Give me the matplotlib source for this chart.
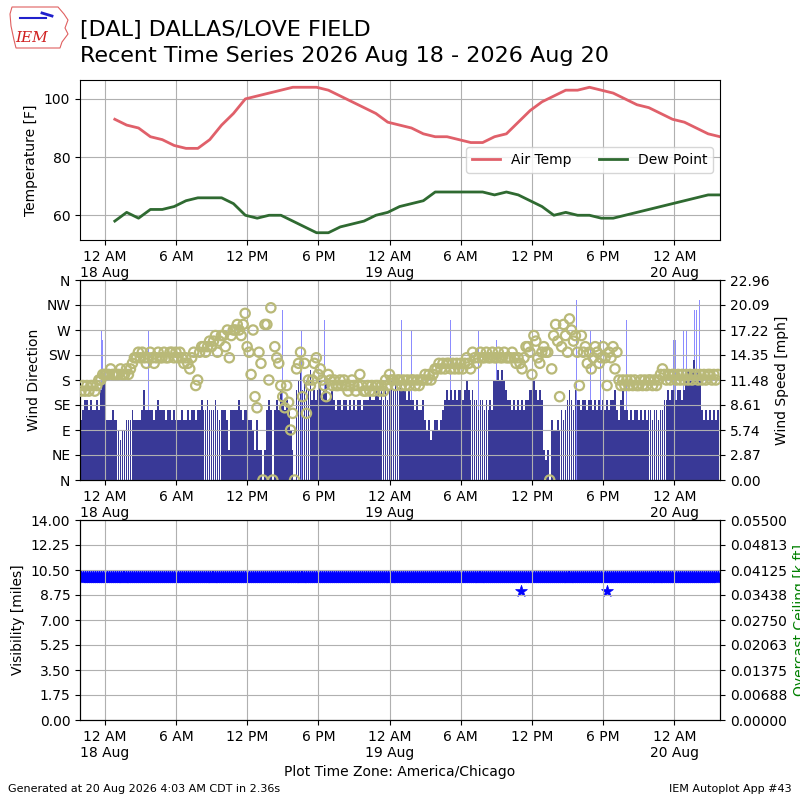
import datetime
import numpy as np
import matplotlib
matplotlib.use("Agg")
import matplotlib.pyplot as plt
import matplotlib.dates as mdates
from matplotlib.ticker import FuncFormatter, FormatStrFormatter
from matplotlib.patches import Polygon

# ---- data ------------------------------------------------------------
base = datetime.datetime(2026, 8, 18, 0, 0)

# hourly obs (at :51) starting 00:51 18 Aug
air_temp = [93, 91, 90, 87, 86, 84, 83, 83, 86, 91, 95, 100, 101, 102, 103,
            104, 104, 104, 103, 101, 99, 97, 95, 92, 91,
            90, 88, 87, 87, 86, 85, 85, 87, 88, 92, 96, 99, 101, 103, 103,
            104, 103, 102, 100, 98, 97, 95, 93, 92, 90, 88, 87]
dew_point = [58, 61, 59, 62, 62, 63, 65, 66, 66, 66, 64, 60, 59, 60, 60,
             58, 56, 54, 54, 56, 57, 58, 60, 61, 63,
             64, 65, 68, 68, 68, 68, 68, 67, 68, 67, 65, 63, 60, 61, 60,
             60, 59, 59, 60, 61, 62, 63, 64, 65, 66, 67, 67]

# 10 minute wind obs starting 22:00 17 Aug, speed in knots
wind_kt = [
    6, 7, 8, 8, 7, 8,   7, 7, 8, 7, 9, 10,   10, 6, 6, 6, 7, 6,
    6, 5, 4, 5, 5, 6,   6, 6, 7, 6, 6, 6,    6, 7, 9, 7, 7, 7,
    7, 6, 7, 8, 7, 7,   7, 6, 7, 7, 6, 7,    6, 6, 6, 7, 6, 6,
    7, 6, 7, 7, 6, 7,   7, 8, 7, 7, 8, 7,    7, 7, 8, 7, 6, 7,
    7, 7, 6, 3, 7, 7,   7, 7, 8, 7, 6, 7,    7, 6, 6, 5, 3, 6,
    3, 3, 0, 3, 7, 8,   7, 0, 7, 8, 7, 9,    8, 7, 8, 7, 5, 3,
    0, 9, 10, 11, 9, 10,  10, 9, 11, 8, 9, 8,  9, 10, 8, 9, 10, 8,
    8, 9, 8, 7, 8, 8,   7, 8, 8, 7, 8, 7,    8, 7, 8, 8, 7, 8,
    8, 8, 9, 8, 8, 9,   9, 8, 9, 8, 9, 8,    9, 10, 9, 10, 10, 9,
    10, 9, 9, 8, 9, 8,  8, 7, 8, 7, 7, 8,    6, 5, 6, 4, 5, 6,
    6, 5, 6, 7, 8, 9,   8, 9, 8, 9, 8, 9,    9, 8, 9, 10, 9, 8,
    9, 8, 8, 7, 8, 8,   7, 8, 7, 8, 7, 10,   10, 11, 10, 11, 10, 9,
    8, 8, 7, 8, 7, 8,   7, 8, 7, 8, 8, 9,    9, 10, 9, 8, 9, 8,
    3, 2, 3, 0, 6, 5,   5, 6, 5, 7, 6, 7,    8, 9, 8, 7, 9, 8,
    8, 7, 8, 8, 7, 8,   8, 7, 8, 7, 8, 7,    8, 7, 8, 7, 8, 8,
    9, 7, 6, 8, 9, 7,   7, 6, 7, 6, 7, 7,    6, 7, 6, 7, 6, 7,
    7, 6, 7, 7, 6, 7,   7, 8, 8, 9, 8, 9,    9, 8, 9, 9, 8, 9,
    10, 11, 10, 11, 12, 10,  11, 10, 7, 6, 7, 6,  7, 6, 7, 6, 7,
]
wind_dir = [
    160, 170, 160, 170, 160, 170,  170, 160, 170, 180, 180, 190,
    190, 190, 190, 200, 190, 190,  190, 190, 200, 190, 190, 200,
    190, 200, 210, 220, 220, 230,  220, 230, 220, 210, 220, 230,
    220, 210, 220, 230, 220, 220,  230, 220, 220, 230, 230, 220,
    230, 220, 230, 220, 210, 220,  210, 200, 220, 230, 170, 180,
    230, 240, 240, 230, 240, 250,  240, 250, 260, 230, 250, 260,
    260, 240, 270, 220, 260, 270,  270, 280, 270, 260, 280, 300,
    240, 230, 190, 270, 150, 130,  230, 210, 0, 280, 280, 180,
    310, 0, 240, 220, 210, 170,    150, 130, 170, 140, 90, 120,
    0, 200, 210, 230, 150, 210,    120, 180, 170, 180, 210, 220,
    190, 200, 180, 170, 150, 190,  180, 170, 180, 170, 170, 180,
    170, 180, 170, 160, 170, 180,  170, 160, 170, 190, 170, 160,
    160, 170, 160, 170, 160, 170,  170, 160, 170, 160, 180, 170,
    190, 180, 180, 170, 180, 180,  170, 180, 170, 180, 170, 180,
    180, 170, 180, 170, 180, 180,  190, 180, 190, 180, 190, 200,
    200, 210, 200, 210, 200, 210,  210, 200, 210, 200, 210, 200,
    210, 200, 210, 220, 210, 200,  230, 220, 210, 220, 230, 220,
    220, 230, 220, 220, 230, 220,  220, 230, 220, 220, 230, 220,
    220, 220, 230, 220, 210, 220,  210, 200, 220, 240, 240, 230,
    190, 260, 250, 220, 210, 230,  240, 230, 230, 0, 200, 260,
    280, 250, 150, 240, 280, 260,  230, 290, 270, 250, 260, 230,
    170, 260, 230, 240, 210, 230,  200, 220, 240, 230, 210, 220,
    240, 220, 170, 230, 220, 240,  200, 230, 180, 170, 180, 170,
    180, 170, 180, 170, 180, 170,  170, 180, 170, 180, 170, 180,
    180, 170, 180, 170, 180, 190,  200, 190, 180, 190, 180, 190,
    190, 180, 190, 180, 190, 180,  190, 180, 190, 180, 190, 190,
    180, 190, 180, 190, 180, 190,  190, 180, 190, 180, 190,
]

# gusts: hours after 00:00 18 Aug, knots
gust_hours = [-0.25, -0.17, 3.73, 15.0, 16.6, 18.56, 25.03, 25.87, 29.1,
              31.48, 33.03, 39.77, 40.9, 41.74, 43.76, 43.93, 47.91, 48.14,
              48.76, 48.99, 49.74, 49.89, 50.1]
gust_kt = [15, 14, 15, 17, 15, 16, 16, 15, 16, 15, 14, 18, 15, 14, 16, 16,
           14, 14, 15, 15, 17, 17, 18]

visibility = 10.0            # miles, nearly the whole period
low_vis_hours = [35.06, 42.3]
low_vis = [9.0, 9.0]

KT2MPH = 1.15078

temp_times = [base + datetime.timedelta(hours=k, minutes=51)
              for k in range(len(air_temp))]
wind_times = [base + datetime.timedelta(hours=-2, minutes=10 * i)
              for i in range(len(wind_kt))]
gust_times = [base + datetime.timedelta(hours=h) for h in gust_hours]
low_vis_times = [base + datetime.timedelta(hours=h) for h in low_vis_hours]
wind_mph = np.array(wind_kt) * KT2MPH
gust_mph = np.array(gust_kt) * KT2MPH

xmin = base + datetime.timedelta(hours=-2, minutes=-5)
xmax = base + datetime.timedelta(hours=51, minutes=51)


def timefmt(x, pos=None):
    dt = mdates.num2date(x)
    if dt.hour == 0:
        return "12 AM\n" + dt.strftime("%d %b")
    h = dt.hour % 12 or 12
    return "%d %s" % (h, "AM" if dt.hour < 12 else "PM")


def setup_xaxis(ax):
    ax.set_xlim(xmin, xmax)
    ax.xaxis.set_major_locator(mdates.HourLocator(byhour=[0, 6, 12, 18]))
    ax.xaxis.set_major_formatter(FuncFormatter(timefmt))
    ax.grid(True, color="#b0b0b0")


fig = plt.figure(figsize=(8, 8), dpi=100)

# title + logo
fig.text(0.1, 0.9625, "[DAL] DALLAS/LOVE FIELD", fontsize=16, va="center")
fig.text(0.1, 0.93, "Recent Time Series 2026 Aug 18 - 2026 Aug 20",
         fontsize=16, va="center")
logo = fig.add_axes([0.01, 0.935, 0.085, 0.06])
logo.set_xlim(0, 68)
logo.set_ylim(48, 0)
logo.axis("off")
logo.add_patch(Polygon([(4, 3), (50, 3), (56, 10), (60, 16), (57, 24),
                        (60, 30), (54, 38), (52, 44), (8, 44), (6, 36),
                        (3, 22), (2, 10)], closed=True, fill=False,
                       ec="#e06060", lw=0.8))
logo.plot([12, 38], [14, 14], color="#2020cc", lw=1.5)
logo.plot([34, 44], [9, 12], color="#2020cc", lw=2)
logo.text(7, 38, "IEM", color="#d02020", fontsize=11, style="italic",
          family="DejaVu Serif")

# ---- temperature panel --------------------------------------------------
ax1 = fig.add_axes([0.1, 0.7, 0.8, 0.2])
ax1.plot(temp_times, air_temp, color="#e0606a", lw=2, label="Air Temp")
ax1.plot(temp_times, dew_point, color="#2f6a31", lw=2, label="Dew Point")
ax1.set_yticks([60, 80, 100])
ax1.set_ylabel("Temperature [F]")
setup_xaxis(ax1)
ax1.legend(loc="center right", ncol=2)

# ---- wind panel -------------------------------------------------------
ax2 = fig.add_axes([0.1, 0.4, 0.8, 0.25])
ax2b = ax2.twinx()
ax2.bar(gust_times, gust_mph, width=5.0 / 1440, color="#8c8cff", lw=0)
ax2.bar(wind_times, wind_mph, width=9.0 / 1440, color="#393997", lw=0)
ax2.set_ylim(0, 22.96)
ax2.set_yticks(np.linspace(0, 22.96, 9))
ax2.yaxis.set_major_formatter(FormatStrFormatter("%.2f"))
setup_xaxis(ax2)

ax2b.scatter(wind_times, wind_dir, s=45, facecolors="none",
             edgecolors="#b9b978", linewidths=1.6, zorder=3)
ax2b.set_ylim(0, 360)
ax2b.set_yticks(range(0, 361, 45))
ax2b.set_yticklabels(["N", "NE", "E", "SE", "S", "SW", "W", "NW", "N"])
ax2b.set_xlim(xmin, xmax)

# speed on the right, direction on the left
ax2.yaxis.tick_right()
ax2.yaxis.set_label_position("right")
ax2.set_ylabel("Wind Speed [mph]")
ax2b.yaxis.tick_left()
ax2b.yaxis.set_label_position("left")
ax2b.set_ylabel("Wind Direction")

# ---- visibility panel -------------------------------------------------
ax3 = fig.add_axes([0.1, 0.1, 0.8, 0.25])
ax3.scatter(wind_times, [visibility] * len(wind_times), marker="*", s=80,
            color="blue", edgecolors="blue", lw=1)
ax3.scatter(low_vis_times, low_vis, marker="*", s=80, color="blue",
            edgecolors="blue", lw=0.5)
ax3.set_ylim(0, 14)
ax3.set_yticks(np.linspace(0, 14, 9))
ax3.yaxis.set_major_formatter(FormatStrFormatter("%.2f"))
ax3.set_ylabel("Visibility [miles]")
ax3.set_xlabel("Plot Time Zone: America/Chicago")
setup_xaxis(ax3)

ax3b = ax3.twinx()
ax3b.set_ylim(0, 0.055)
ax3b.set_yticks(np.linspace(0, 0.055, 9))
ax3b.yaxis.set_major_formatter(FormatStrFormatter("%.5f"))
ax3b.set_ylabel("Overcast Ceiling [k ft]", color="green")
ax3b.set_xlim(xmin, xmax)

fig.text(0.01, 0.01, "Generated at 20 Aug 2026 4:03 AM CDT in 2.36s",
         fontsize=8)
fig.text(0.99, 0.01, "IEM Autoplot App #43", fontsize=8, ha="right")

fig.savefig("out.png", dpi=100)
